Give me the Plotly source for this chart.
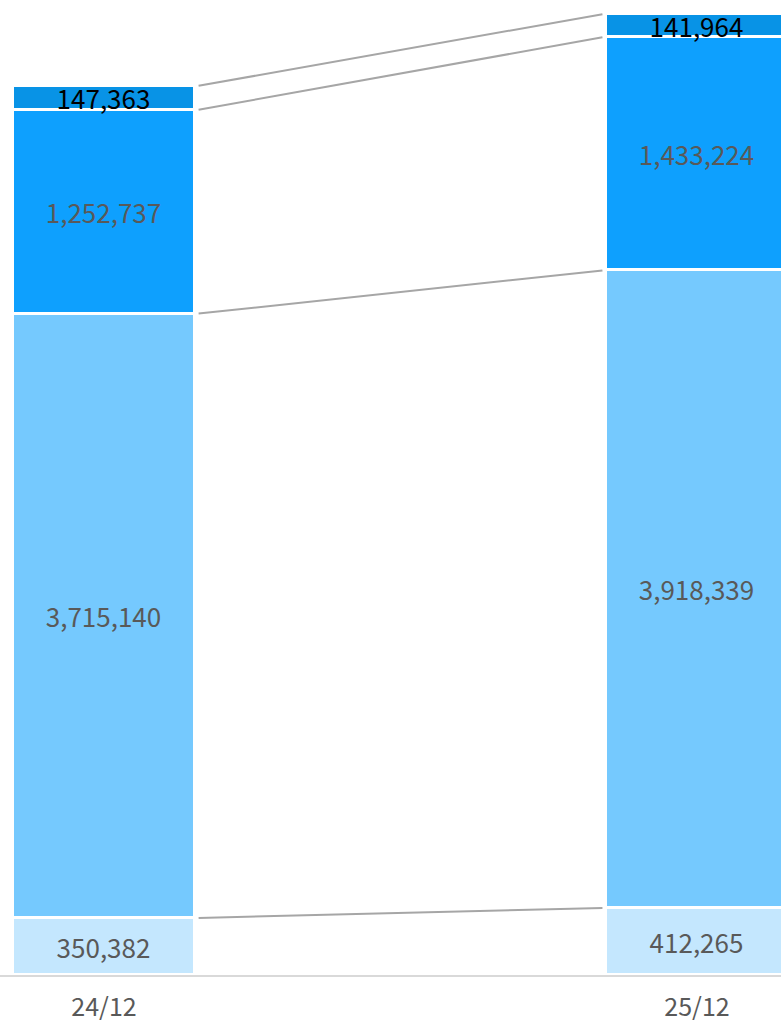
import plotly.graph_objects as go
import numpy as np

categories = ["24/12", "25/12"]
seg1 = [350382, 412265]
seg2 = [3715140, 3918339]
seg3 = [1252737, 1433224]
seg4 = [147363, 141964]

colors = ["#c4e7fe", "#75c9fe", "#0ea0fe", "#0893e6"]
text_colors = ["#595959", "#595959", "#595959", "#000000"]
series = [seg1, seg2, seg3, seg4]

xpos = [0, 1]
bar_w = 0.307
FONT = "Noto Sans CJK JP"

fig = go.Figure()
for vals, c, tc in zip(series, colors, text_colors):
    fig.add_trace(go.Bar(
        x=xpos, y=vals, width=bar_w,
        marker=dict(color=c, line=dict(color="white", width=3)),
        text=[f"{v:,}" for v in vals], textposition="inside",
        insidetextanchor="middle",
        textfont=dict(family=FONT, size=26, color=tc),
        hoverinfo="skip", showlegend=False,
    ))

# connector lines at cumulative boundaries
cum = np.cumsum(np.array(series), axis=0)
gap = 0.006
x0 = xpos[0] + bar_w / 2 + gap
x1 = xpos[1] - bar_w / 2 - gap
for row in cum:
    fig.add_trace(go.Scatter(
        x=[x0, x1], y=[row[0], row[1]], mode="lines",
        line=dict(color="#a6a6a6", width=2),
        hoverinfo="skip", showlegend=False,
    ))

fig.update_layout(
    width=781, height=1020,
    margin=dict(l=0, r=0, t=0, b=45, autoexpand=False),
    plot_bgcolor="white", paper_bgcolor="white",
    barmode="stack", bargap=0,
    uniformtext=dict(minsize=26, mode="show"),
    xaxis=dict(
        range=[-0.1754, 1.1416], tickvals=xpos, ticktext=categories,
        showgrid=False, zeroline=False, automargin=False,
        showline=True, linecolor="#d9d9d9", linewidth=2,
        ticks="outside", ticklen=9, tickcolor="rgba(0,0,0,0)",
        tickfont=dict(family=FONT, size=25, color="#595959"),
    ),
    yaxis=dict(range=[0, 5993000], visible=False, showgrid=False, automargin=False),
)

fig.write_html("out.html", config={"displayModeBar": False},
               post_script="document.body.style.margin='0';")
